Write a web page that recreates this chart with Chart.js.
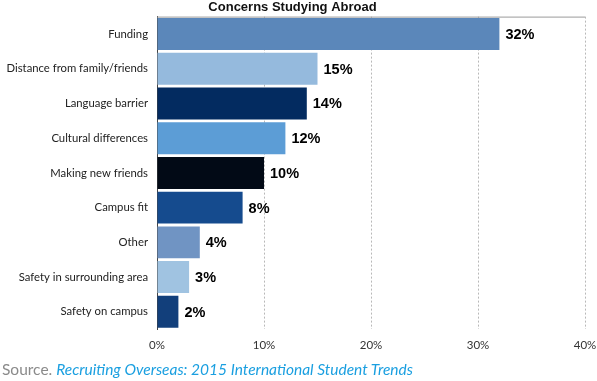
<!DOCTYPE html>
<html>
<head>
<meta charset="utf-8">
<script src="https://cdn.jsdelivr.net/npm/chart.js@4/dist/chart.umd.min.js"></script>
<style>
  html, body { margin: 0; padding: 0; background: #fff; }
  #wrap { position: relative; width: 597px; height: 381px; }
  #source { position: absolute; left: 2px; top: 360px; font-family: Lato, "Open Sans", sans-serif; font-size: 15.5px; color: #8a8a8a; white-space: nowrap; }
  #source em { color: #1a9fe0; }
</style>
</head>
<body>
<div id="wrap">
  <canvas id="c" width="597" height="381"></canvas>
  <div id="source">Source. <em>Recruiting Overseas: 2015 International Student Trends</em></div>
</div>
<script>
const categories = ["Funding", "Distance from family/friends", "Language barrier", "Cultural differences", "Making new friends", "Campus fit", "Other", "Safety in surrounding area", "Safety on campus"];
const values = [32, 15, 14, 12, 10, 8, 4, 3, 2];
const barColors = ["#5b87ba", "#95badd", "#032b60", "#5c9dd6", "#020a16", "#154b8e", "#7094c3", "#a0c3e1", "#123f7b"];
const xTicks = [0, 10, 20, 30, 40];
const titleText = "Concerns Studying Abroad";

const valueLabels = {
  id: 'valueLabels',
  afterDatasetsDraw(chart) {
    const ctx = chart.ctx;
    const meta = chart.getDatasetMeta(0);
    ctx.save();
    ctx.font = 'bold 14.5px "Liberation Sans", Arial, sans-serif';
    ctx.fillStyle = '#000';
    ctx.textAlign = 'left';
    ctx.textBaseline = 'middle';
    meta.data.forEach((el, i) => {
      ctx.fillText(values[i] + '%', el.x + 6, el.y + 1);
    });
    ctx.restore();
  }
};
const topFrame = {
  id: 'topFrame',
  afterDraw(chart) {
    const a = chart.chartArea, ctx = chart.ctx;
    ctx.save();
    ctx.strokeStyle = '#9a9a9a';
    ctx.lineWidth = 1;
    ctx.beginPath();
    ctx.moveTo(a.left, a.top + 0.5);
    ctx.lineTo(a.right, a.top + 0.5);
    ctx.stroke();
    ctx.restore();
  }
};

new Chart(document.getElementById('c'), {
  type: 'bar',
  data: {
    labels: categories,
    datasets: [{ data: values, backgroundColor: barColors, borderWidth: 0, categoryPercentage: 1, barPercentage: 0.92 }]
  },
  options: {
    indexAxis: 'y',
    responsive: false,
    animation: false,
    layout: { padding: { left: 0, right: 12, top: 0, bottom: 20 } },
    plugins: {
      legend: { display: false },
      tooltip: { enabled: false },
      title: { display: true, text: titleText, color: '#111', font: { family: '"Liberation Sans", Arial, sans-serif', size: 13, weight: 'bold' }, padding: { top: 0, bottom: 1 } }
    },
    scales: {
      x: {
        min: 0, max: 40,
        afterBuildTicks(s) { s.ticks = xTicks.map(v => ({ value: v })); },
        afterFit(s) { s.paddingLeft = 0; s.paddingRight = 0; },
        ticks: { callback: v => v + '%', color: '#333', font: { family: 'Lato, sans-serif', size: 11.5 }, padding: 9, maxRotation: 0 },
        grid: { drawTicks: false, color: ctx => ctx.tick && ctx.tick.value === 0 ? 'rgba(0,0,0,0)' : '#b8b8b8' },
        border: { display: false, dash: [2, 2] }
      },
      y: {
        afterFit(s) { s.width = 157; },
        ticks: { color: '#222', font: { family: 'Lato, sans-serif', size: 11.3 }, padding: 9 },
        grid: { display: false, drawTicks: false },
        border: { display: true, color: '#444', width: 1 }
      }
    }
  },
  plugins: [valueLabels, topFrame]
});
</script>
</body>
</html>
